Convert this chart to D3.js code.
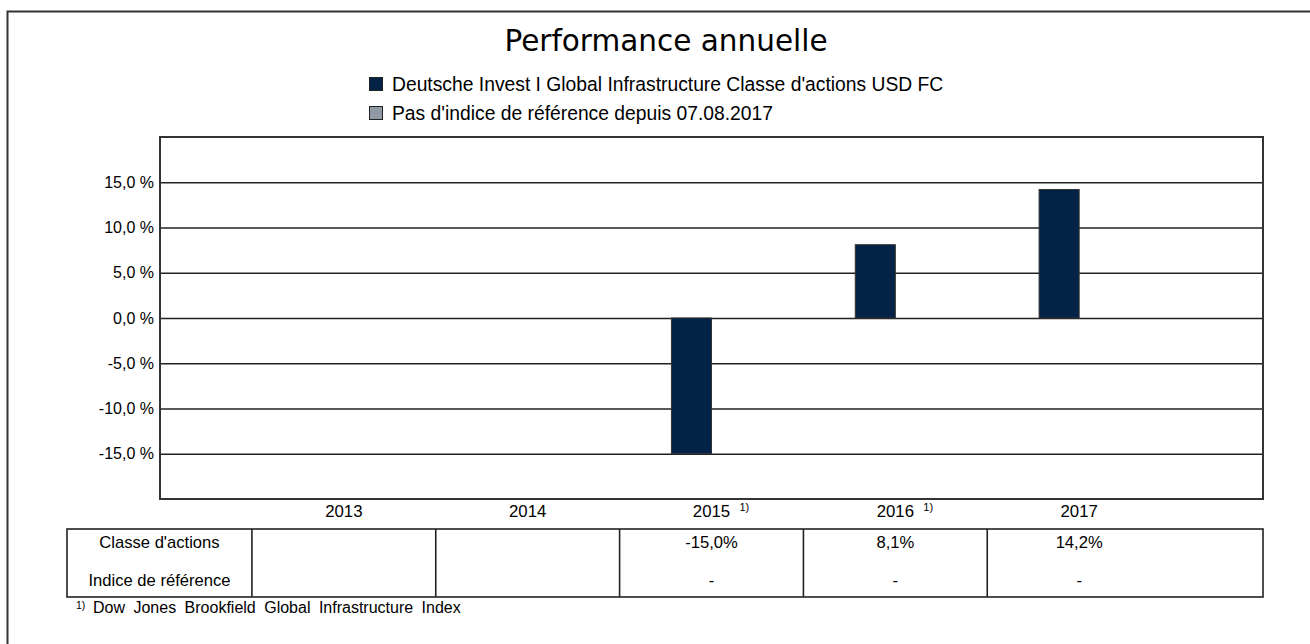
<!DOCTYPE html>
<meta charset="utf-8">
<style>
body { margin: 0; background: #fff; }
text { font-family: "Liberation Sans", Arial, sans-serif; fill: #000; }
</style>
<body>
<script src="https://d3js.org/d3.v7.min.js"></script>
<script>

var title = "Performance annuelle";
var seriesNames = ["Deutsche Invest I Global Infrastructure Classe d'actions USD FC",
                   "Pas d'indice de référence depuis 07.08.2017"];
var seriesColors = ["#022346", "#8f9aa5"];

var years = [2013, 2014, 2015, 2016, 2017];
var fundValues = [null, null, -15.0, 8.1, 14.2];
var benchValues = [null, null, null, null, null];
var benchShown = [false, false, true, true, true];
var footnoteYears = [2015, 2016];
var yTicks = [-15, -10, -5, 0, 5, 10, 15];
var rowLabels = ["Classe d'actions", "Indice de référence"];
var footnote = "Dow Jones Brookfield Global Infrastructure Index";

var width = 1310, height = 644;
var plot = {left: 160, top: 137, right: 1263, bottom: 499};

var svg = d3.select("body").append("svg")
    .attr("width", width)
    .attr("height", height);

// outer frame, open to the right and bottom
svg.append("path")
    .attr("d", "M7.5," + (height + 5) + "V11.5H" + (width + 5))
    .attr("fill", "none")
    .attr("stroke", "#333")
    .attr("stroke-width", 2);

var x = d3.scaleLinear()
    .domain([years[0] - 1, years[years.length - 1] + 1])
    .range([plot.left, plot.right]);

var y = d3.scaleLinear()
    .domain([-20, 20])
    .range([plot.bottom, plot.top]);

var step = x(1) - x(0);
var barW = step * 0.218;

// comma decimals, plain hyphen for negatives
var fmt = v => d3.format(".1f")(v).replace(".", ",").replace("\u2212", "-");

svg.append("text")
    .attr("x", 666)
    .attr("y", 51)
    .attr("text-anchor", "middle")
    .style("font-family", "'DejaVu Sans', sans-serif")
    .style("font-size", "29.5px")
    .text(title);

// legend
var legend = svg.selectAll("g.legend")
    .data(seriesNames)
    .enter().append("g")
    .attr("class", "legend")
    .attr("transform", (d, i) => `translate(369, ${77 + i * 29})`);

legend.append("rect")
    .attr("x", 0.5).attr("y", 0.5)
    .attr("width", 13).attr("height", 13)
    .attr("fill", (d, i) => seriesColors[i])
    .attr("stroke", "#222");

legend.append("text")
    .attr("x", 23)
    .attr("y", 13.5)
    .style("font-size", "19.3px")
    .text(d => d);

// gridlines and y labels
var yAxis = d3.axisLeft(y)
    .tickValues(yTicks)
    .tickSize(-(plot.right - plot.left))
    .tickPadding(6)
    .tickFormat(d => fmt(d) + " %");

svg.append("g")
    .attr("transform", `translate(${plot.left},0)`)
    .call(yAxis)
    .call(g => g.select(".domain").remove())
    .call(g => g.selectAll("line").attr("stroke", "#222").attr("stroke-width", 1.6))
    .call(g => g.selectAll("text")
        .attr("x", -6)
        .style("font-size", "16px")
        .style("font-family", "'Liberation Sans', Arial, sans-serif")
        .attr("fill", "#000"));

// bars
svg.selectAll("rect.bar")
    .data(years.map((yr, i) => ({year: yr, value: fundValues[i]})).filter(d => d.value != null))
    .enter().append("rect")
    .attr("class", "bar")
    .attr("x", d => x(d.year) - barW)
    .attr("width", barW)
    .attr("y", d => y(Math.max(0, d.value)))
    .attr("height", d => Math.abs(y(d.value) - y(0)))
    .attr("fill", seriesColors[0])
    .attr("stroke", "#333")
    .attr("stroke-width", 1);

// plot frame
svg.append("rect")
    .attr("x", plot.left).attr("y", plot.top)
    .attr("width", plot.right - plot.left)
    .attr("height", plot.bottom - plot.top)
    .attr("fill", "none")
    .attr("stroke", "#333")
    .attr("stroke-width", 2);

// x labels
var xl = svg.selectAll("g.xlab")
    .data(years)
    .enter().append("g")
    .attr("class", "xlab")
    .attr("transform", d => `translate(${x(d)},517)`);

xl.append("text")
    .attr("text-anchor", "middle")
    .style("font-size", "16.8px")
    .text(d => d);

xl.filter(d => footnoteYears.includes(d)).append("text")
    .attr("x", 28)
    .attr("y", -6)
    .style("font-size", "11px")
    .text("1)");

// table
var tTop = 529, tBottom = 597, tLeft = 67;

svg.append("rect")
    .attr("x", tLeft).attr("y", tTop)
    .attr("width", plot.right - tLeft)
    .attr("height", tBottom - tTop)
    .attr("fill", "none")
    .attr("stroke", "#222")
    .attr("stroke-width", 1.6);

svg.selectAll("line.tdiv")
    .data(years)
    .enter().append("line")
    .attr("class", "tdiv")
    .attr("x1", d => x(d - 0.5)).attr("x2", d => x(d - 0.5))
    .attr("y1", tTop).attr("y2", tBottom)
    .attr("stroke", "#222")
    .attr("stroke-width", 1.6);

svg.selectAll("text.rowlab")
    .data(rowLabels)
    .enter().append("text")
    .attr("class", "rowlab")
    .attr("x", (tLeft + x(years[0] - 0.5)) / 2)
    .attr("y", (d, i) => 548 + i * 38)
    .attr("text-anchor", "middle")
    .style("font-size", "16.6px")
    .text(d => d);

svg.selectAll("text.fundval")
    .data(years.map((yr, i) => ({year: yr, value: fundValues[i]})).filter(d => d.value != null))
    .enter().append("text")
    .attr("class", "fundval")
    .attr("x", d => x(d.year))
    .attr("y", 548)
    .attr("text-anchor", "middle")
    .style("font-size", "16.6px")
    .text(d => fmt(d.value) + "%");

svg.selectAll("text.benchval")
    .data(years.map((yr, i) => ({year: yr, value: benchValues[i], shown: benchShown[i]})).filter(d => d.shown))
    .enter().append("text")
    .attr("class", "benchval")
    .attr("x", d => x(d.year))
    .attr("y", 586)
    .attr("text-anchor", "middle")
    .style("font-size", "16.6px")
    .text(d => d.value == null ? "-" : fmt(d.value) + "%");

// footnote
svg.append("text")
    .attr("x", 76)
    .attr("y", 609)
    .style("font-size", "10.5px")
    .text("1)");

svg.append("text")
    .attr("x", 93)
    .attr("y", 613)
    .style("font-size", "16px")
    .style("word-spacing", "4px")
    .text(footnote);

</script>
